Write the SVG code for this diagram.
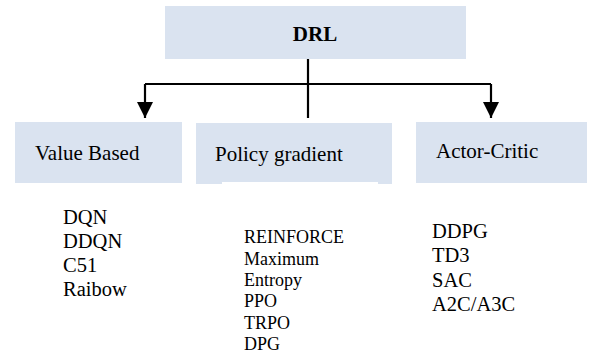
<svg xmlns="http://www.w3.org/2000/svg" width="591" height="356" viewBox="0 0 591 356">
  <style>
    .box { fill: #dae3f0; }
    .wire { fill: none; stroke: #000; stroke-width: 2.2; }
  </style>
  <defs>
    <marker id="head" markerUnits="userSpaceOnUse" markerWidth="17" markerHeight="16" refX="16" refY="8" orient="auto" viewBox="0 0 17 16">
      <path d="M0,0 L16,8 L0,16 Z" fill="#000"/>
    </marker>
  </defs>

  <g font-family="Liberation Serif, Times New Roman, serif" fill="#000">
    <g id="node-drl">
      <rect class="box" x="165" y="6" width="301" height="53"/>
      <text x="315" y="41" text-anchor="middle" font-weight="bold" font-size="21">DRL</text>
    </g>

    <g id="node-value">
      <rect class="box" x="15" y="122" width="167" height="61"/>
      <text x="35" y="160" font-size="21">Value Based</text>
    </g>

    <g id="node-policy">
      <rect class="box" x="196" y="123" width="196" height="61"/>
      <rect x="222" y="182" width="156" height="3" fill="#fff"/>
      <text x="215" y="161" font-size="21">Policy gradient</text>
    </g>

    <g id="node-actor">
      <rect class="box" x="416" y="122" width="171" height="61"/>
      <text x="436" y="158" font-size="21">Actor-Critic</text>
    </g>

    <g id="connectors">
      <path class="wire" d="M145,84 L491,84"/>
      <path class="wire" d="M308,59 L308,118" stroke-width="1.6"/>
      <path class="wire" d="M145,84 L145,118" marker-end="url(#head)"/>
      <path class="wire" d="M491,84 L491,118" marker-end="url(#head)"/>
    </g>

    <g id="list-value" font-size="20.5">
      <text x="63" y="224">DQN</text>
      <text x="63" y="248">DDQN</text>
      <text x="63" y="272">C51</text>
      <text x="63" y="296">Raibow</text>
    </g>

    <g id="list-policy" font-size="18">
      <text x="244" y="243">REINFORCE</text>
      <text x="244" y="264.5">Maximum</text>
      <text x="244" y="286">Entropy</text>
      <text x="244" y="307">PPO</text>
      <text x="244" y="328.5">TRPO</text>
      <text x="244" y="350">DPG</text>
    </g>

    <g id="list-actor" font-size="20.5">
      <text x="432" y="238">DDPG</text>
      <text x="432" y="262">TD3</text>
      <text x="432" y="287">SAC</text>
      <text x="432" y="311">A2C/A3C</text>
    </g>
  </g>
</svg>
